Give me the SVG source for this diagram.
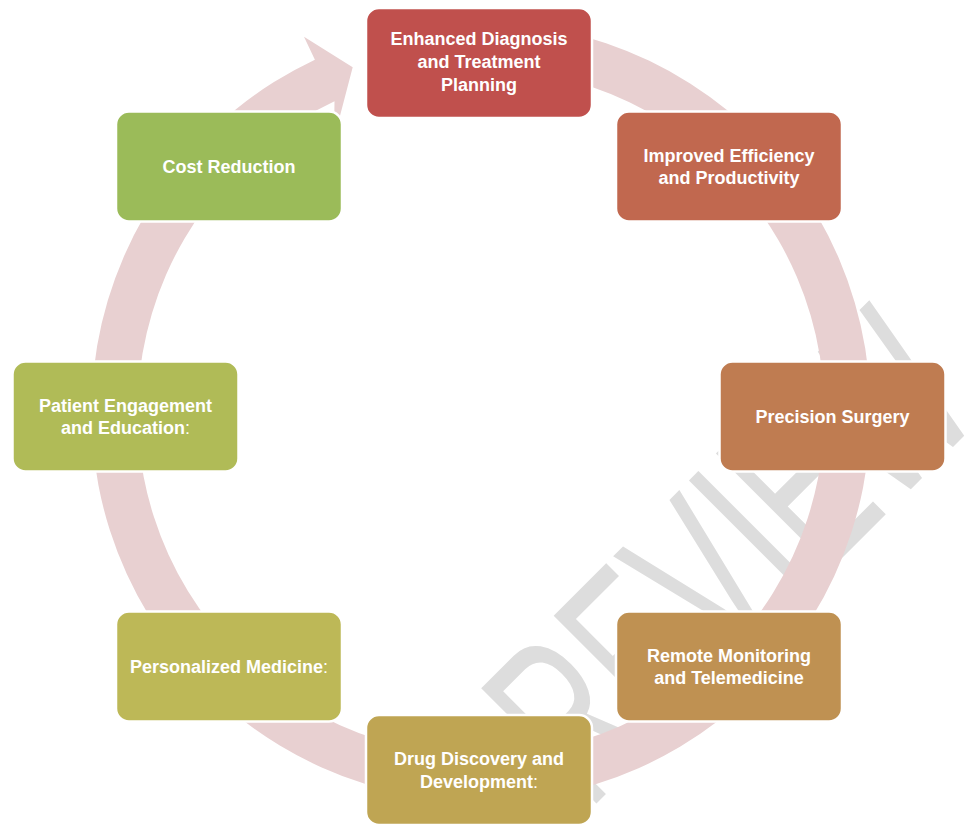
<svg xmlns="http://www.w3.org/2000/svg" width="966" height="824" viewBox="0 0 966 824">
  <style>
    .box { stroke: #ffffff; stroke-width: 2.5; }
    .lbl { font-family: "Liberation Sans", Arial, sans-serif; font-weight: bold; font-size: 18px; fill: #ffffff; text-anchor: middle; }
    .thin { font-weight: normal; }
    .wm { font-family: "Liberation Sans", Arial, sans-serif; font-size: 237px; fill: #DDDDDD; text-anchor: middle; }
  </style>
  <rect x="0" y="0" width="966" height="824" fill="#ffffff"/>
  <g id="watermark">
    <text class="wm" transform="translate(753,647) rotate(-45) scale(0.6,1)" x="0" y="0">PREVIEW</text>
  </g>
  <g id="connectors">
    <path id="cycle-arrow" fill="#E8D0D1" d="M 514.9 24.0 A 389.5 389.5 0 1 1 314.9 59.7 L 304 36.7 L 352.7 67.3 L 334 138.7 L 334.5 101.3 A 343.5 343.5 0 1 0 510.9 69.8 Z"/>
  </g>
  <g id="node-diagnosis">
    <rect class="box" x="366" y="8" width="226" height="110" rx="13" fill="#C0504D"/>
    <text class="lbl" x="479" y="45">Enhanced Diagnosis</text>
    <text class="lbl" x="479" y="68">and Treatment</text>
    <text class="lbl" x="479" y="91">Planning</text>
  </g>
  <g id="node-efficiency">
    <rect class="box" x="616" y="111.5" width="226" height="110" rx="13" fill="#C1684F"/>
    <text class="lbl" x="729" y="161.5">Improved Efficiency</text>
    <text class="lbl" x="729" y="184">and Productivity</text>
  </g>
  <g id="node-surgery">
    <rect class="box" x="719.5" y="361.5" width="226" height="110" rx="13" fill="#BF7C51"/>
    <text class="lbl" x="832.5" y="423">Precision Surgery</text>
  </g>
  <g id="node-remote">
    <rect class="box" x="616" y="611.5" width="226" height="110" rx="13" fill="#BF9152"/>
    <text class="lbl" x="729" y="661.5">Remote Monitoring</text>
    <text class="lbl" x="729" y="684">and Telemedicine</text>
  </g>
  <g id="node-drug">
    <rect class="box" x="366" y="715" width="226" height="110" rx="13" fill="#BFA553"/>
    <text class="lbl" x="479" y="765">Drug Discovery and</text>
    <text class="lbl" x="479" y="787.5">Development<tspan class="thin">:</tspan></text>
  </g>
  <g id="node-personalized">
    <rect class="box" x="116" y="611.5" width="226" height="110" rx="13" fill="#BDB857"/>
    <text class="lbl" x="229" y="673">Personalized Medicine<tspan class="thin">:</tspan></text>
  </g>
  <g id="node-patient">
    <rect class="box" x="12.5" y="361.5" width="226" height="110" rx="13" fill="#B0BB57"/>
    <text class="lbl" x="125.5" y="411.5">Patient Engagement</text>
    <text class="lbl" x="125.5" y="434">and Education<tspan class="thin">:</tspan></text>
  </g>
  <g id="node-cost">
    <rect class="box" x="116" y="111.5" width="226" height="110" rx="13" fill="#9BBB59"/>
    <text class="lbl" x="229" y="172.5">Cost Reduction</text>
  </g>
</svg>
